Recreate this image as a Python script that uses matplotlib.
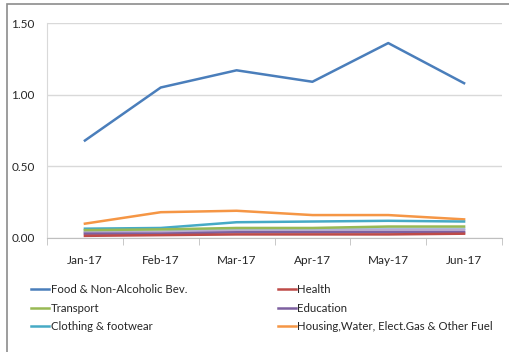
import matplotlib.pyplot as plt
import numpy as np
from matplotlib.patches import Rectangle
from matplotlib.lines import Line2D

plt.rcParams['font.family'] = ['Lato', 'DejaVu Sans']

months = ["Jan-17", "Feb-17", "Mar-17", "Apr-17", "May-17", "Jun-17"]

food = [0.68, 1.05, 1.17, 1.09, 1.36, 1.08]
health = [0.015, 0.02, 0.025, 0.025, 0.025, 0.03]
transport = [0.055, 0.06, 0.07, 0.07, 0.08, 0.08]
education = [0.03, 0.03, 0.04, 0.04, 0.04, 0.04]
clothing = [0.065, 0.07, 0.11, 0.115, 0.12, 0.115]
housing = [0.10, 0.18, 0.19, 0.16, 0.16, 0.13]
other_a = [0.045, 0.045, 0.06, 0.06, 0.065, 0.065]
other_b = [0.038, 0.04, 0.05, 0.05, 0.055, 0.055]

series = [
    ("Food & Non-Alcoholic Bev.", food, '#4a7ebb'),
    ("Health", health, '#be4b48'),
    ("Transport", transport, '#98b954'),
    ("Education", education, '#7d60a0'),
    ("Clothing & footwear", clothing, '#46aac5'),
    ("Housing,Water, Elect.Gas & Other Fuel", housing, '#f59645'),
]
extra = [(other_a, '#a8c0de'), (other_b, '#b9a9d0')]

fig = plt.figure(figsize=(5.09, 3.52), dpi=100)
fig.patch.set_facecolor('white')

# chart frame
fig.patches.append(Rectangle((7 / 509, -0.1), 1.2, (352 - 4) / 352 + 0.1,
                             transform=fig.transFigure, fill=False,
                             edgecolor='#8c8c8c', linewidth=1.2))

ax = fig.add_axes([47 / 509, (352 - 238) / 352, 455 / 509, 215 / 352])
x = np.arange(len(months))

for vals, col in extra:
    ax.plot(x, vals, color=col, linewidth=1.8, zorder=2)
for name, vals, col in reversed(series):
    ax.plot(x, vals, color=col, linewidth=1.8, zorder=3)

ax.set_xlim(-0.5, 5.5)
ax.set_ylim(0, 1.5)
ax.set_yticks([0, 0.5, 1.0, 1.5])
ax.set_yticklabels(["0.00", "0.50", "1.00", "1.50"])
ax.set_xticks(x)
ax.set_xticklabels(months)
ax.set_xticks(np.arange(-0.5, 6.0, 1.0), minor=True)
ax.tick_params(axis='x', which='major', length=0, pad=12, labelsize=8.5, colors='#262626')
ax.tick_params(axis='x', which='minor', length=5, color='#bfbfbf', direction='out')
ax.tick_params(axis='y', length=0, pad=9, labelsize=8.5, colors='#262626')
ax.grid(axis='y', color='#d9d9d9', linewidth=1)
ax.set_axisbelow(True)
for s in ['top', 'right']:
    ax.spines[s].set_visible(False)
ax.spines['left'].set_color('#d9d9d9')
ax.spines['bottom'].set_color('#bfbfbf')

handles = [Line2D([], [], color=c, linewidth=1.8) for _, _, c in series]
labels = [n for n, _, _ in series]
order = [0, 2, 4, 1, 3, 5]
fig.legend([handles[i] for i in order], [labels[i] for i in order],
           loc='upper left', bbox_to_anchor=(21 / 509, 1 - 274 / 352),
           ncol=2, frameon=False, fontsize=8.2, handlelength=1.6,
           handletextpad=0.15, columnspacing=7.9, labelspacing=0.65,
           labelcolor='#262626')

fig.savefig('out.png', dpi=100)
